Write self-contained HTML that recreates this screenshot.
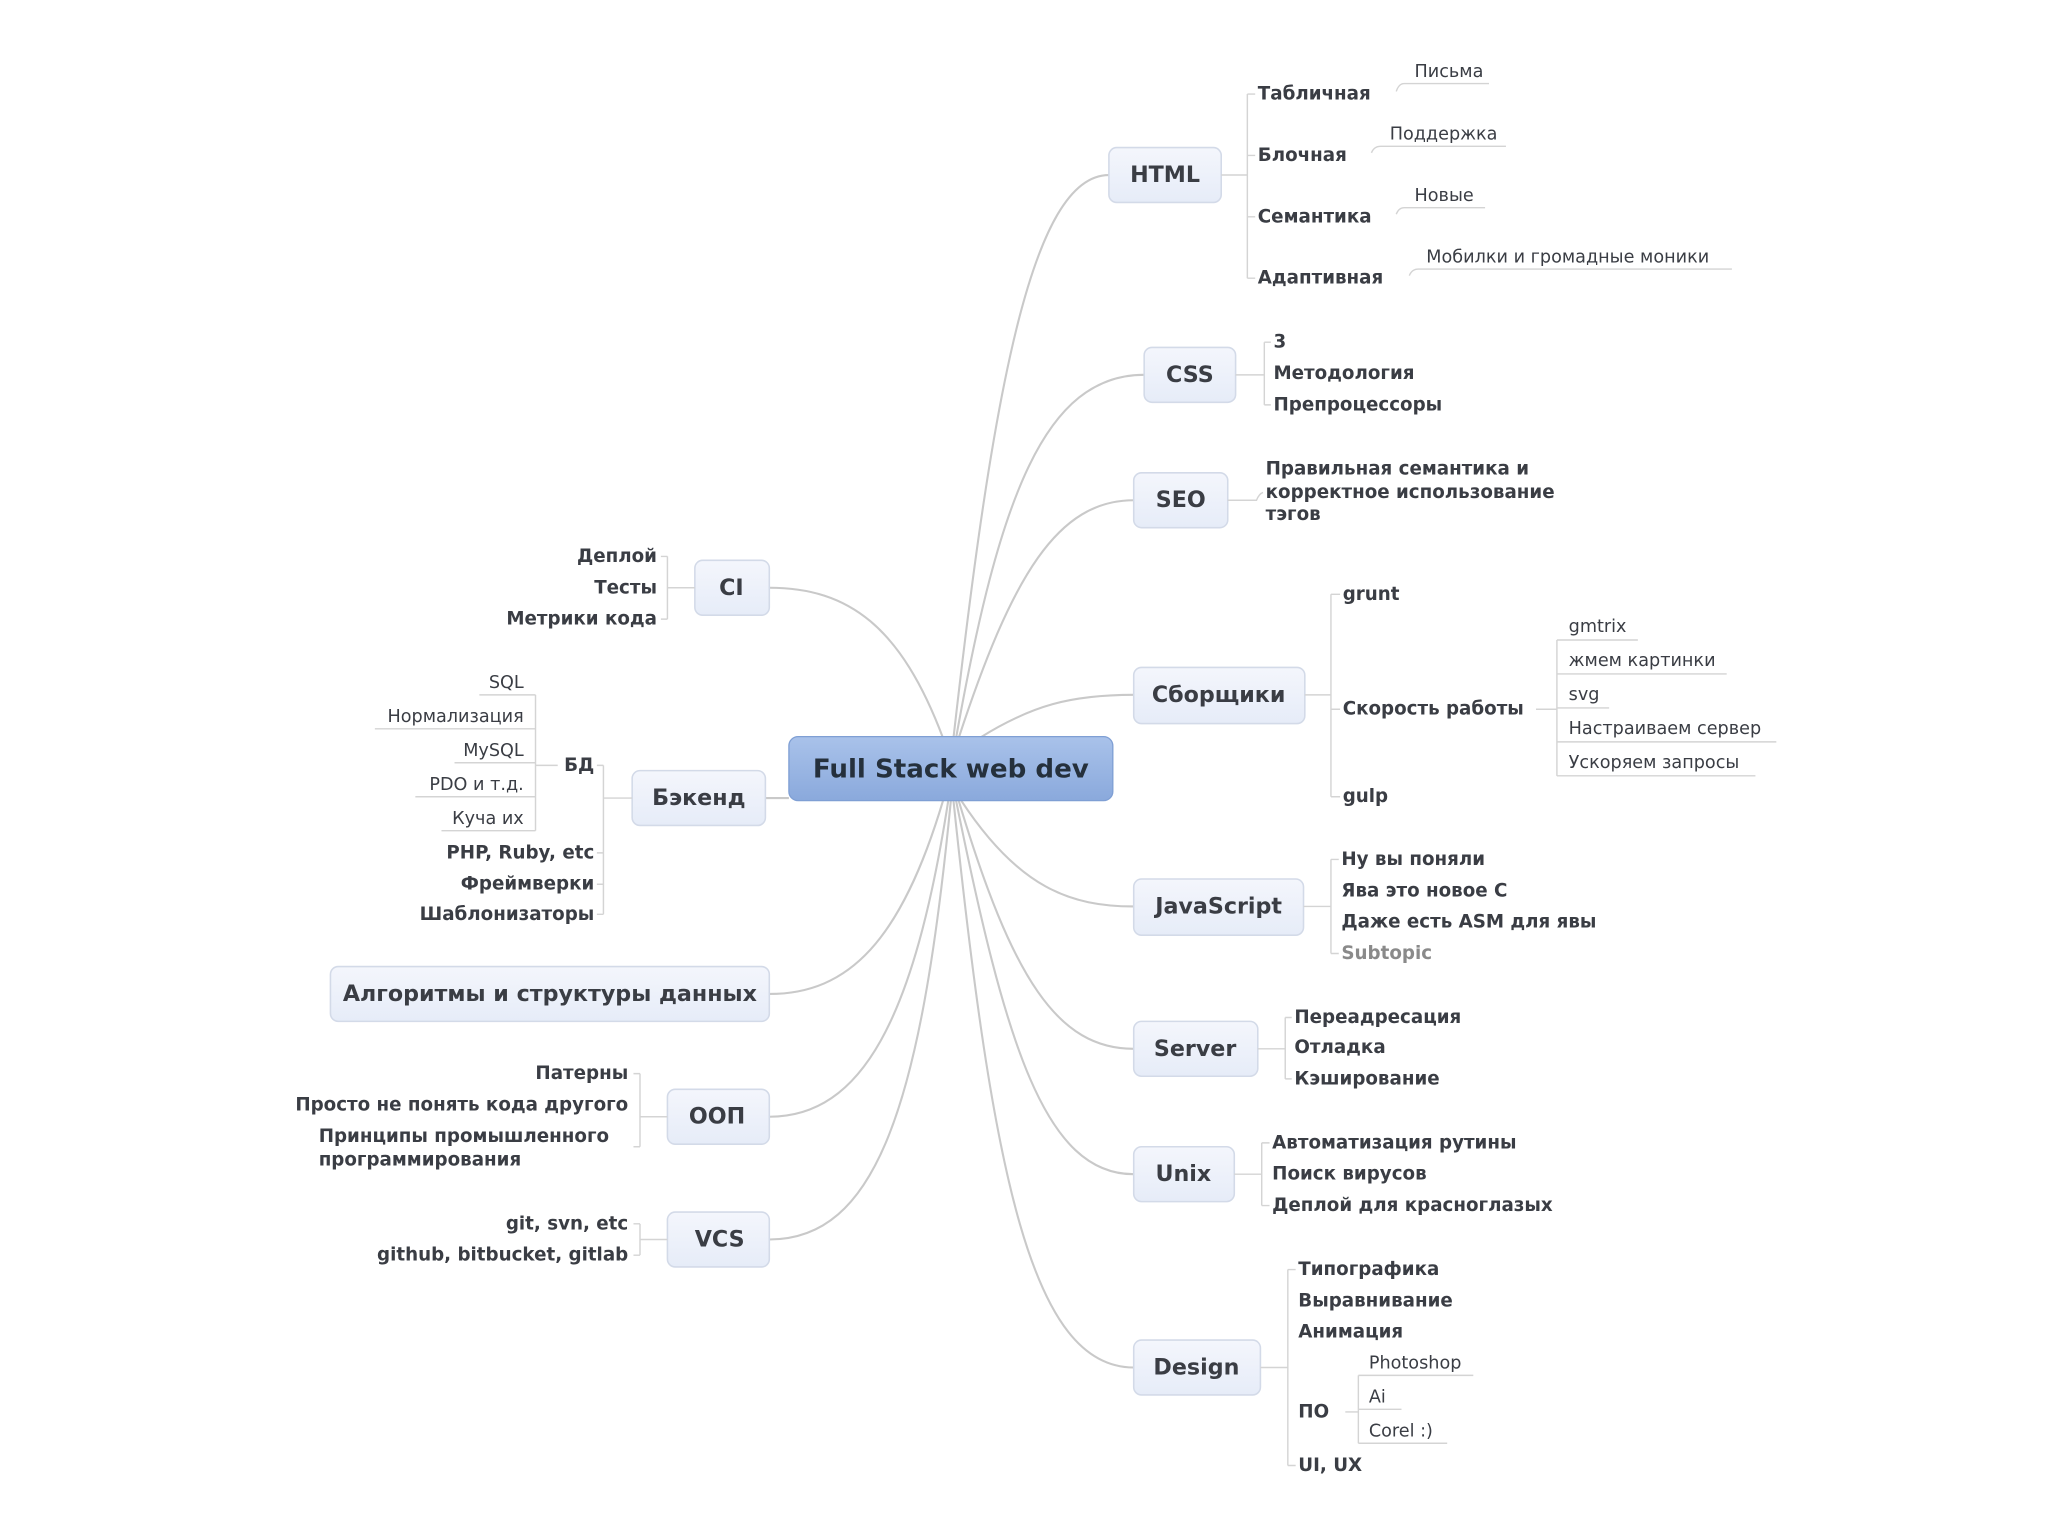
<!DOCTYPE html>
<html><head><meta charset="utf-8"><style>
html,body{margin:0;padding:0;background:#fff;width:2048px;height:1536px;overflow:hidden}
svg{display:block}
text{font-family:"DejaVu Sans","Liberation Sans",sans-serif;fill:#3a3d44;dominant-baseline:central}
.b{font-weight:bold;font-size:14px}
.n{font-size:13.5px}
.nd{font-weight:bold;font-size:17px}
.r{text-anchor:end}
.c{text-anchor:middle}
.l{stroke:#c9c9c9;stroke-width:1.6;fill:none}
.t{stroke:#d4d4d4;stroke-width:1.1;fill:none}
.box{fill:url(#g);stroke:#d3dae8;stroke-width:1.2}
</style></head><body>
<svg width="2048" height="1536" viewBox="0 0 1568 1176" xmlns="http://www.w3.org/2000/svg">
<defs>
<linearGradient id="g" x1="0" y1="0" x2="0" y2="1"><stop offset="0" stop-color="#f4f6fc"/><stop offset="1" stop-color="#e6ecf8"/></linearGradient>
<linearGradient id="gc" x1="0" y1="0" x2="0" y2="1"><stop offset="0" stop-color="#a9c2ea"/><stop offset="1" stop-color="#8aa9dc"/></linearGradient>
</defs>

<!-- main branches -->
<g class="l">
<path d="M730,565 C760,300 790,134 849,134"/>
<path d="M732,565 C765,380 800,287 876,287"/>
<path d="M734,565 C775,440 810,383 868,383"/>
<path d="M750,565 C790,540 820,532 868,532"/>
<path d="M736,613 C780,680 820,694 868,694"/>
<path d="M734,613 C775,750 810,803 868,803"/>
<path d="M732,613 C770,800 800,899 868,899"/>
<path d="M730,613 C760,900 790,1047 868,1047"/>
<path d="M722,565 C690,480 650,450 589,450"/>
<path d="M586,611 L604,611"/>
<path d="M722,613 C690,720 650,761 589,761"/>
<path d="M726,613 C700,780 660,855 589,855"/>
<path d="M728,613 C705,850 670,949 589,949"/>
</g>

<!-- central -->
<rect x="604" y="564" width="248" height="49" rx="7" fill="url(#gc)" stroke="#7f9fd4"/>
<text x="728" y="589" class="c" style="font-weight:bold;font-size:20px;fill:#25303c">Full Stack web dev</text>

<!-- nodes -->
<rect class="box" x="849" y="113" width="86" height="42" rx="6"/><text class="nd c" x="892" y="134">HTML</text>
<rect class="box" x="876" y="266" width="70" height="42" rx="6"/><text class="nd c" x="911" y="287">CSS</text>
<rect class="box" x="868" y="362" width="72" height="42" rx="6"/><text class="nd c" x="904" y="383">SEO</text>
<rect class="box" x="868" y="511" width="131" height="43" rx="6"/><text class="nd c" x="933" y="532">Сборщики</text>
<rect class="box" x="868" y="673" width="130" height="43" rx="6"/><text class="nd c" x="933" y="694">JavaScript</text>
<rect class="box" x="868" y="782" width="95" height="42" rx="6"/><text class="nd c" x="915" y="803">Server</text>
<rect class="box" x="868" y="878" width="77" height="42" rx="6"/><text class="nd c" x="906" y="899">Unix</text>
<rect class="box" x="868" y="1026" width="97" height="42" rx="6"/><text class="nd c" x="916" y="1047">Design</text>
<rect class="box" x="532" y="429" width="57" height="42" rx="6"/><text class="nd c" x="560" y="450">CI</text>
<rect class="box" x="484" y="590" width="102" height="42" rx="6"/><text class="nd c" x="535" y="611">Бэкенд</text>
<rect class="box" x="253" y="740" width="336" height="42" rx="6"/><text class="nd c" x="421" y="761">Алгоритмы и структуры данных</text>
<rect class="box" x="511" y="834" width="78" height="42" rx="6"/><text class="nd c" x="549" y="855">ООП</text>
<rect class="box" x="511" y="928" width="78" height="42" rx="6"/><text class="nd c" x="551" y="949">VCS</text>

<!-- HTML children -->
<g class="t">
<path d="M935,134 H955 M955,72 V213 M955,72 H961 M955,119 H961 M955,166 H961 M955,213 H961"/>
<path d="M1069,70 Q1071,64 1075,64 H1140"/>
<path d="M1050,117 Q1052,112 1057,112 H1153"/>
<path d="M1069,164 Q1071,159 1075,159 H1137"/>
<path d="M1079,211 Q1081,206 1086,206 H1326"/>
</g>
<text class="b" x="963" y="72">Табличная</text>
<text class="b" x="963" y="119">Блочная</text>
<text class="b" x="963" y="166">Семантика</text>
<text class="b" x="963" y="213">Адаптивная</text>
<text class="n" x="1083" y="55">Письма</text>
<text class="n" x="1064" y="103">Поддержка</text>
<text class="n" x="1083" y="150">Новые</text>
<text class="n" x="1092" y="197">Мобилки и громадные моники</text>

<!-- CSS -->
<path class="t" d="M946,287 H968 M968,262 V310 M968,262 H973 M968,310 H973"/>
<text class="b" x="975" y="262">3</text>
<text class="b" x="975" y="286">Методология</text>
<text class="b" x="975" y="310">Препроцессоры</text>

<!-- SEO -->
<path class="t" d="M940,383 H962 Q964,378 967,377"/>
<text class="b" x="969" y="359">Правильная семантика и</text>
<text class="b" x="969" y="377">корректное использование</text>
<text class="b" x="969" y="394">тэгов</text>

<!-- Сборщики -->
<path class="t" d="M999,532 H1019 M1019,455 V610 M1019,455 H1026 M1019,543 H1026 M1019,610 H1026"/>
<text class="b" x="1028" y="455">grunt</text>
<text class="b" x="1028" y="543">Скорость работы</text>
<text class="b" x="1028" y="610">gulp</text>
<g class="t">
<path d="M1176,543 H1192 M1192,490 V594"/>
<path d="M1192,490 H1254 M1192,516 H1322 M1192,542 H1232 M1192,568 H1360 M1192,594 H1344"/>
</g>
<text class="n" x="1201" y="480">gmtrix</text>
<text class="n" x="1201" y="506">жмем картинки</text>
<text class="n" x="1201" y="532">svg</text>
<text class="n" x="1201" y="558">Настраиваем сервер</text>
<text class="n" x="1201" y="584">Ускоряем запросы</text>

<!-- JavaScript -->
<path class="t" d="M998,694 H1019 M1019,658 V730 M1019,658 H1025 M1019,730 H1025"/>
<text class="b" x="1027" y="658">Ну вы поняли</text>
<text class="b" x="1027" y="682">Ява это новое С</text>
<text class="b" x="1027" y="706">Даже есть ASM для явы</text>
<text class="b" x="1027" y="730" style="fill:#8a8a8a">Subtopic</text>

<!-- Server -->
<path class="t" d="M963,803 H984 M984,779 V826 M984,779 H989 M984,826 H989"/>
<text class="b" x="991" y="779">Переадресация</text>
<text class="b" x="991" y="802">Отладка</text>
<text class="b" x="991" y="826">Кэширование</text>

<!-- Unix -->
<path class="t" d="M945,899 H966 M966,875 V923 M966,875 H972 M966,923 H972"/>
<text class="b" x="974" y="875">Автоматизация рутины</text>
<text class="b" x="974" y="899">Поиск вирусов</text>
<text class="b" x="974" y="923">Деплой для красноглазых</text>

<!-- Design -->
<path class="t" d="M965,1047 H986 M986,972 V1122 M986,972 H992 M986,1122 H992"/>
<text class="b" x="994" y="972">Типографика</text>
<text class="b" x="994" y="996">Выравнивание</text>
<text class="b" x="994" y="1020">Анимация</text>
<text class="b" x="994" y="1081">ПО</text>
<text class="b" x="994" y="1122">UI, UX</text>
<g class="t">
<path d="M1030,1081 H1040 M1040,1053 V1105"/>
<path d="M1040,1053 H1128 M1040,1079 H1073 M1040,1105 H1108"/>
</g>
<text class="n" x="1048" y="1044">Photoshop</text>
<text class="n" x="1048" y="1070">Ai</text>
<text class="n" x="1048" y="1096">Corel :)</text>

<!-- CI -->
<path class="t" d="M532,450 H511 M511,426 V474 M511,426 H506 M511,474 H506"/>
<text class="b r" x="503" y="426">Деплой</text>
<text class="b r" x="503" y="450">Тесты</text>
<text class="b r" x="503" y="474">Метрики кода</text>

<!-- Бэкенд -->
<path class="t" d="M484,611 H462 M462,586 V700 M462,586 H457 M462,653 H457 M462,677 H457 M462,700 H457"/>
<text class="b r" x="455" y="586">БД</text>
<text class="b r" x="455" y="653">PHP, Ruby, etc</text>
<text class="b r" x="455" y="677">Фреймверки</text>
<text class="b r" x="455" y="700">Шаблонизаторы</text>
<g class="t">
<path d="M427,586 H410 M410,532 V636"/>
<path d="M410,532 H367 M410,558 H287 M410,584 H348 M410,610 H318 M410,636 H338"/>
</g>
<text class="n r" x="401" y="523">SQL</text>
<text class="n r" x="401" y="549">Нормализация</text>
<text class="n r" x="401" y="575">MySQL</text>
<text class="n r" x="401" y="601">PDO и т.д.</text>
<text class="n r" x="401" y="627">Куча их</text>

<!-- ООП -->
<path class="t" d="M511,855 H490 M490,822 V878 M490,822 H485 M490,878 H485"/>
<text class="b r" x="481" y="822">Патерны</text>
<text class="b r" x="481" y="846">Просто не понять кода другого</text>
<text class="b" x="244" y="870">Принципы промышленного</text>
<text class="b" x="244" y="888">программирования</text>

<!-- VCS -->
<path class="t" d="M511,949 H490 M490,937 V961 M490,937 H485 M490,961 H485"/>
<text class="b r" x="481" y="937">git, svn, etc</text>
<text class="b r" x="481" y="961">github, bitbucket, gitlab</text>
</svg>
</body></html>
